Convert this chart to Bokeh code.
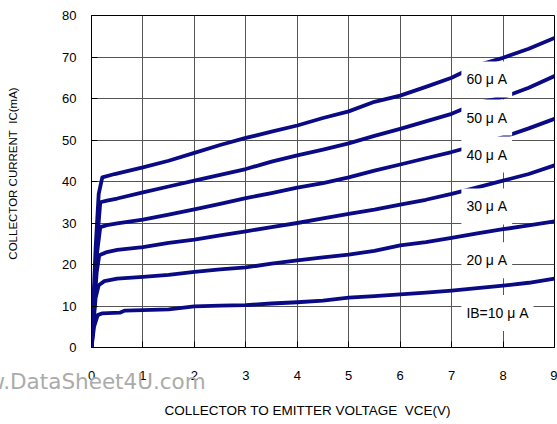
from bokeh.plotting import figure
from bokeh.models import Label, FixedTicker, Range1d
from bokeh.embed import file_html
from bokeh.resources import INLINE

# Collector-emitter voltage (V) and collector current (mA) for each base current
vce_10 = [0, 0.05, 0.12, 0.2, 0.55, 0.65, 1, 1.5, 2, 2.5, 3, 3.5, 4, 4.5, 5, 5.5, 6, 6.5, 7, 7.5, 8, 8.5, 9]
ic_10 = [0, 5.0, 7.8, 8.2, 8.4, 8.9, 9.0, 9.2, 9.9, 10.1, 10.2, 10.6, 10.9, 11.3, 12.0, 12.4, 12.8, 13.2, 13.7, 14.3, 14.9, 15.6, 16.6]

vce_20 = [0, 0.08, 0.14, 0.25, 0.5, 1, 1.5, 2, 2.5, 3, 3.5, 4, 4.5, 5, 5.5, 6, 6.5, 7, 7.5, 8, 8.5, 9]
ic_20 = [0, 12.0, 15.0, 16.0, 16.6, 17.0, 17.5, 18.2, 18.8, 19.3, 20.2, 21.0, 21.7, 22.4, 23.3, 24.6, 25.4, 26.4, 27.5, 28.5, 29.4, 30.4]

vce_30 = [0, 0.1, 0.15, 0.3, 0.5, 1, 1.5, 2, 2.5, 3, 3.5, 4, 4.5, 5, 5.5, 6, 6.5, 7, 7.5, 8, 8.5, 9]
ic_30 = [0, 18.0, 22.2, 23.0, 23.5, 24.2, 25.2, 26.0, 27.0, 28.0, 29.0, 30.0, 31.1, 32.2, 33.2, 34.4, 35.6, 37.0, 38.6, 40.2, 41.8, 43.9]

vce_40 = [0, 0.1, 0.17, 0.3, 0.5, 1, 1.5, 2, 2.5, 3, 3.5, 4, 4.5, 5, 5.5, 6, 6.5, 7, 7.5, 8, 8.5, 9]
ic_40 = [0, 22.0, 29.0, 29.5, 29.9, 30.8, 32.0, 33.3, 34.6, 36.0, 37.2, 38.5, 39.6, 41.0, 42.6, 44.1, 45.6, 47.1, 48.8, 50.7, 52.8, 55.1]

vce_50 = [0, 0.1, 0.17, 0.3, 0.5, 1, 1.5, 2, 2.5, 3, 3.5, 4, 4.5, 5, 5.5, 6, 6.5, 7, 7.5, 8, 8.5, 9]
ic_50 = [0, 24.0, 35.0, 35.4, 35.9, 37.4, 38.8, 40.2, 41.6, 43.0, 44.8, 46.3, 47.7, 49.2, 51.0, 52.7, 54.5, 56.3, 58.9, 60.3, 62.6, 65.4]

vce_60 = [0, 0.08, 0.14, 0.21, 0.45, 1, 1.5, 2, 2.5, 3, 3.5, 4, 4.5, 5, 5.5, 6, 6.5, 7, 7.5, 8, 8.5, 9]
ic_60 = [0, 24.0, 37.0, 41.0, 41.8, 43.4, 45.0, 46.9, 48.8, 50.5, 52.0, 53.5, 55.3, 56.9, 59.2, 60.7, 62.8, 65.0, 68.0, 69.8, 72.0, 74.6]

series_names = ["IB=10 \u03bc A", "20 \u03bc A", "30 \u03bc A", "40 \u03bc A", "50 \u03bc A", "60 \u03bc A"]
series_label_y = [8.3, 21.0, 34.0, 46.5, 55.4, 64.6]
x_ticks = [0, 1, 2, 3, 4, 5, 6, 7, 8, 9]
y_ticks = [0, 10, 20, 30, 40, 50, 60, 70, 80]

FONT = "Liberation Sans"
NAVY = "#0a0a85"

p = figure(width=557, height=424, output_backend="svg", toolbar_location=None,
           x_range=Range1d(0, 9), y_range=Range1d(0, 80),
           min_border_left=91, min_border_right=3, min_border_top=15, min_border_bottom=77)
p.background_fill_color = "white"
p.border_fill_color = "white"
p.outline_line_color = "black"
p.outline_line_width = 1

for xs, ys in [(vce_10, ic_10), (vce_20, ic_20), (vce_30, ic_30),
               (vce_40, ic_40), (vce_50, ic_50), (vce_60, ic_60)]:
    p.line(xs, ys, line_color=NAVY, line_width=3.8, line_join="round", line_cap="round")

p.xaxis.ticker = FixedTicker(ticks=x_ticks)
p.yaxis.ticker = FixedTicker(ticks=y_ticks)
p.xgrid.grid_line_color = "#555555"
p.ygrid.grid_line_color = "#555555"
p.xgrid.grid_line_width = 1
p.ygrid.grid_line_width = 1

for ax in (p.xaxis[0], p.yaxis[0]):
    ax.axis_line_color = "black"
    ax.major_tick_line_color = "black"
    ax.major_tick_in = 6
    ax.major_tick_out = 0
    ax.minor_tick_line_color = None
    ax.major_label_text_font = FONT
    ax.major_label_text_font_size = "13px"
    ax.major_label_text_color = "black"
    ax.axis_label_text_font = FONT
    ax.axis_label_text_font_style = "normal"
    ax.axis_label_text_color = "black"

p.xaxis.major_label_standoff = 23

p.yaxis.major_label_standoff = 15
p.yaxis.axis_label = "\u00a0" * 5 + "COLLECTOR CURRENT\u00a0 IC(mA)"
p.yaxis.axis_label_text_font_size = "11.5px"
p.yaxis.axis_label_standoff = 40

for name, ly in zip(series_names, series_label_y):
    p.add_layout(Label(x=7.19, y=ly, text=name, text_font=FONT, text_font_size="14px",
                       text_color="black", text_align="left", text_baseline="middle",
                       background_fill_color="white", padding=(5, 10)))

# x-axis title and watermark live in the lower side panel (not clipped to the frame)
p.add_layout(Label(x=4.2, y=-15.2, text="COLLECTOR TO EMITTER VOLTAGE\u00a0 VCE(V)",
                   text_font=FONT, text_font_size="13.5px", text_color="black",
                   text_align="center", text_baseline="middle", text_line_height=1.0), "below")
p.add_layout(Label(x=2.22, y=-8.15, text="www.DataSheet4U.com", text_font="DejaVu Sans",
                   text_font_size="21.5px", text_color="#ababab", text_align="right",
                   text_baseline="alphabetic", text_line_height=1.0), "below")

open("out.html", "w").write(file_html(p, INLINE))
